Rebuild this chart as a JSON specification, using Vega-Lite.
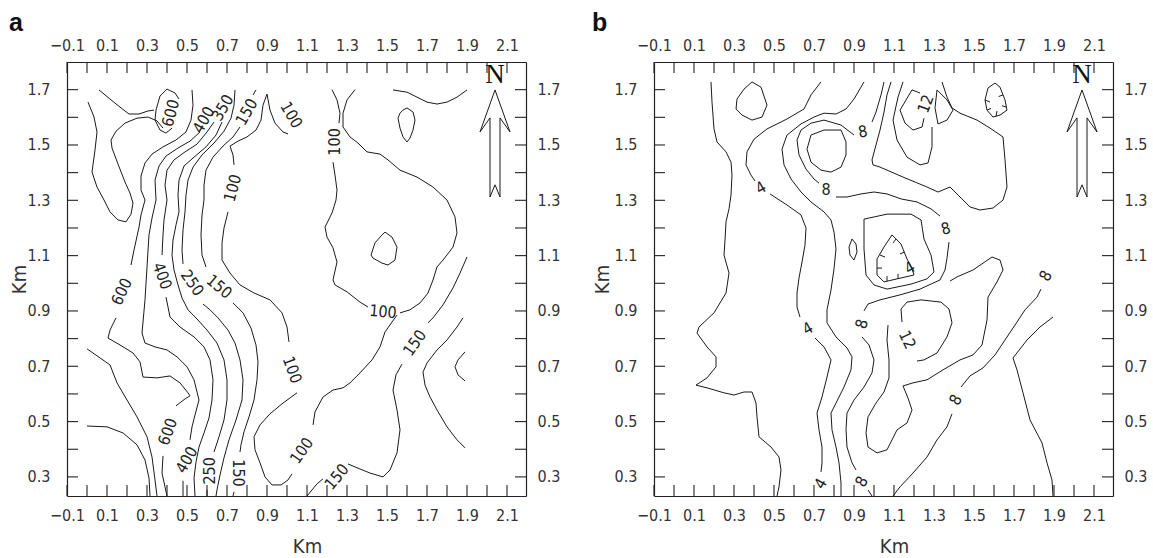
{
"$schema":"https://vega.github.io/schema/vega-lite/v6.json",
"padding":{"left":9,"top":11,"right":0,"bottom":2},
"spacing":128,
"bounds":"flush",
"config":{"view":{"stroke":null},"font":"Liberation Sans Narrow, DejaVu Sans Condensed, Liberation Sans",
"axis":{"grid":false,"ticks":false,"tickSize":0,"domainColor":"#222","labelColor":"#333","labelFontSize":16,"labelFont":"Liberation Sans Narrow, DejaVu Sans Condensed, Liberation Sans","labelFlush":false,"labelOverlap":false,"titleFont":"Liberation Sans Narrow, DejaVu Sans Condensed, Liberation Sans","titleFontSize":20,"titleFontWeight":"normal","titleColor":"#333","domainWidth":1.2}},
"datasets":{
"xt":[{"v":-0.1},{"v":0},{"v":0.1},{"v":0.2},{"v":0.3},{"v":0.4},{"v":0.5},{"v":0.6},{"v":0.7},{"v":0.8},{"v":0.9},{"v":1},{"v":1.1},{"v":1.2},{"v":1.3},{"v":1.4},{"v":1.5},{"v":1.6},{"v":1.7},{"v":1.8},{"v":1.9},{"v":2},{"v":2.1}],
"yt":[{"v":0.3},{"v":0.4},{"v":0.5},{"v":0.6},{"v":0.7},{"v":0.8},{"v":0.9},{"v":1},{"v":1.1},{"v":1.2},{"v":1.3},{"v":1.4},{"v":1.5},{"v":1.6},{"v":1.7}],
"a":[
{"s":"A1","x":0.005,"y":1.655},{"s":"A1","x":0.035,"y":1.601},{"s":"A1","x":0.05,"y":1.547},{"s":"A1","x":0.04,"y":1.482},{"s":"A1","x":0.025,"y":1.402},{"s":"A1","x":0.05,"y":1.348},{"s":"A1","x":0.085,"y":1.301},{"s":"A1","x":0.115,"y":1.258},{"s":"A1","x":0.155,"y":1.229},{"s":"A1","x":0.195,"y":1.222},{"s":"A1","x":0.22,"y":1.25},{"s":"A1","x":0.23,"y":1.29},{"s":"A1","x":0.215,"y":1.326},{"s":"A1","x":0.19,"y":1.366},{"s":"A1","x":0.155,"y":1.431},{"s":"A1","x":0.125,"y":1.489},{"s":"A1","x":0.12,"y":1.518},{"s":"A1","x":0.145,"y":1.55},{"s":"A1","x":0.19,"y":1.579},{"s":"A1","x":0.25,"y":1.597},{"s":"A1","x":0.305,"y":1.601},{"s":"A1","x":0.35,"y":1.587},{"s":"A1","x":0.38,"y":1.561},
{"s":"A2","x":0.06,"y":1.699},{"s":"A2","x":0.115,"y":1.666},{"s":"A2","x":0.165,"y":1.637},{"s":"A2","x":0.21,"y":1.612},{"s":"A2","x":0.26,"y":1.612},{"s":"A2","x":0.305,"y":1.623},{"s":"A2","x":0.335,"y":1.626},
{"s":"A3","x":0.46,"y":1.666},{"s":"A3","x":0.44,"y":1.688},{"s":"A3","x":0.4,"y":1.702},{"s":"A3","x":0.365,"y":1.677},{"s":"A3","x":0.345,"y":1.626},{"s":"A3","x":0.34,"y":1.59},{"s":"A3","x":0.365,"y":1.554},{"s":"A3","x":0.395,"y":1.543},{"s":"A3","x":0.425,"y":1.561},
{"s":"B1a","x":0.525,"y":1.699},{"s":"B1a","x":0.53,"y":1.644},{"s":"B1a","x":0.52,"y":1.59},{"s":"B1a","x":0.495,"y":1.547},{"s":"B1a","x":0.445,"y":1.518},{"s":"B1a","x":0.38,"y":1.493},{"s":"B1a","x":0.325,"y":1.467},{"s":"B1a","x":0.29,"y":1.435},{"s":"B1a","x":0.27,"y":1.388},{"s":"B1a","x":0.27,"y":1.337},{"s":"B1a","x":0.29,"y":1.301},{"s":"B1a","x":0.27,"y":1.247},{"s":"B1a","x":0.26,"y":1.203},{"s":"B1a","x":0.235,"y":1.12},{"s":"B1a","x":0.22,"y":1.066},
{"s":"B1b","x":0.145,"y":0.875},{"s":"B1b","x":0.115,"y":0.831},{"s":"B1b","x":0.105,"y":0.802},{"s":"B1b","x":0.165,"y":0.777},{"s":"B1b","x":0.23,"y":0.748},{"s":"B1b","x":0.265,"y":0.716},{"s":"B1b","x":0.28,"y":0.661},{"s":"B1b","x":0.35,"y":0.658},{"s":"B1b","x":0.415,"y":0.665},{"s":"B1b","x":0.465,"y":0.64},{"s":"B1b","x":0.505,"y":0.604},{"s":"B1b","x":0.515,"y":0.593},{"s":"B1b","x":0.49,"y":0.582},{"s":"B1b","x":0.445,"y":0.557},
{"s":"B1c","x":0.38,"y":0.376},{"s":"B1c","x":0.375,"y":0.314},{"s":"B1c","x":0.39,"y":0.264},{"s":"B1c","x":0.4,"y":0.231},
{"s":"B2a","x":0.565,"y":1.547},{"s":"B2a","x":0.515,"y":1.514},{"s":"B2a","x":0.455,"y":1.489},{"s":"B2a","x":0.395,"y":1.46},{"s":"B2a","x":0.36,"y":1.424},{"s":"B2a","x":0.34,"y":1.373},{"s":"B2a","x":0.345,"y":1.301},{"s":"B2a","x":0.325,"y":1.236},{"s":"B2a","x":0.31,"y":1.175},{"s":"B2a","x":0.3,"y":1.059},{"s":"B2a","x":0.29,"y":0.94},{"s":"B2a","x":0.275,"y":0.82},{"s":"B2a","x":0.29,"y":0.784},{"s":"B2a","x":0.34,"y":0.77},{"s":"B2a","x":0.4,"y":0.759},{"s":"B2a","x":0.45,"y":0.734},{"s":"B2a","x":0.5,"y":0.698},{"s":"B2a","x":0.535,"y":0.651},{"s":"B2a","x":0.56,"y":0.578},{"s":"B2a","x":0.54,"y":0.524},{"s":"B2a","x":0.525,"y":0.481},{"s":"B2a","x":0.515,"y":0.434},
{"s":"B2b","x":0.48,"y":0.286},{"s":"B2b","x":0.48,"y":0.231},
{"s":"B3a","x":0.635,"y":1.583},{"s":"B3a","x":0.6,"y":1.547},{"s":"B3a","x":0.55,"y":1.503},{"s":"B3a","x":0.49,"y":1.475},{"s":"B3a","x":0.435,"y":1.446},{"s":"B3a","x":0.4,"y":1.409},{"s":"B3a","x":0.39,"y":1.355},{"s":"B3a","x":0.4,"y":1.301},{"s":"B3a","x":0.385,"y":1.229},{"s":"B3a","x":0.38,"y":1.175},{"s":"B3a","x":0.375,"y":1.102},
{"s":"B3b","x":0.395,"y":0.95},{"s":"B3b","x":0.415,"y":0.878},{"s":"B3b","x":0.465,"y":0.842},{"s":"B3b","x":0.535,"y":0.806},{"s":"B3b","x":0.585,"y":0.77},{"s":"B3b","x":0.615,"y":0.723},{"s":"B3b","x":0.63,"y":0.651},{"s":"B3b","x":0.625,"y":0.578},{"s":"B3b","x":0.61,"y":0.513},{"s":"B3b","x":0.585,"y":0.459},{"s":"B3b","x":0.56,"y":0.408},{"s":"B3b","x":0.545,"y":0.354},{"s":"B3b","x":0.535,"y":0.296},{"s":"B3b","x":0.54,"y":0.231},
{"s":"B4","x":0.675,"y":1.583},{"s":"B4","x":0.645,"y":1.536},{"s":"B4","x":0.595,"y":1.493},{"s":"B4","x":0.535,"y":1.456},{"s":"B4","x":0.485,"y":1.424},{"s":"B4","x":0.46,"y":1.373},{"s":"B4","x":0.455,"y":1.319},{"s":"B4","x":0.46,"y":1.258},{"s":"B4","x":0.445,"y":1.211},{"s":"B4","x":0.43,"y":1.156},{"s":"B4","x":0.425,"y":1.102},{"s":"B4","x":0.435,"y":1.048},{"s":"B4","x":0.455,"y":0.994},{"s":"B4","x":0.475,"y":0.947},{"s":"B4","x":0.505,"y":0.904},{"s":"B4","x":0.555,"y":0.867},{"s":"B4","x":0.6,"y":0.831},{"s":"B4","x":0.65,"y":0.784},{"s":"B4","x":0.685,"y":0.723},{"s":"B4","x":0.7,"y":0.651},{"s":"B4","x":0.7,"y":0.578},{"s":"B4","x":0.685,"y":0.506},{"s":"B4","x":0.66,"y":0.445},{"s":"B4","x":0.635,"y":0.39},
{"s":"B4b","x":0.6,"y":0.253},{"s":"B4b","x":0.6,"y":0.231},
{"s":"B5a","x":0.74,"y":1.699},{"s":"B5a","x":0.735,"y":1.644},{"s":"B5a","x":0.72,"y":1.597},{"s":"B5a","x":0.685,"y":1.55},{"s":"B5a","x":0.635,"y":1.507},{"s":"B5a","x":0.575,"y":1.464},{"s":"B5a","x":0.53,"y":1.42},{"s":"B5a","x":0.505,"y":1.373},{"s":"B5a","x":0.495,"y":1.319},{"s":"B5a","x":0.49,"y":1.258},{"s":"B5a","x":0.48,"y":1.193},{"s":"B5a","x":0.475,"y":1.12},{"s":"B5a","x":0.48,"y":1.07},
{"s":"B5b","x":0.58,"y":0.925},{"s":"B5b","x":0.615,"y":0.904},{"s":"B5b","x":0.655,"y":0.875},{"s":"B5b","x":0.705,"y":0.831},{"s":"B5b","x":0.74,"y":0.784},{"s":"B5b","x":0.765,"y":0.723},{"s":"B5b","x":0.78,"y":0.651},{"s":"B5b","x":0.775,"y":0.578},{"s":"B5b","x":0.745,"y":0.506},{"s":"B5b","x":0.71,"y":0.434},{"s":"B5b","x":0.685,"y":0.369},{"s":"B5b","x":0.665,"y":0.307},{"s":"B5b","x":0.65,"y":0.253},{"s":"B5b","x":0.645,"y":0.231},
{"s":"B6t","x":0.83,"y":1.681},{"s":"B6t","x":0.845,"y":1.699},
{"s":"B6a","x":0.765,"y":1.565},{"s":"B6a","x":0.73,"y":1.529},{"s":"B6a","x":0.68,"y":1.496},{"s":"B6a","x":0.63,"y":1.456},{"s":"B6a","x":0.595,"y":1.409},{"s":"B6a","x":0.585,"y":1.355},{"s":"B6a","x":0.585,"y":1.301},{"s":"B6a","x":0.575,"y":1.247},{"s":"B6a","x":0.57,"y":1.175},{"s":"B6a","x":0.575,"y":1.102},{"s":"B6a","x":0.595,"y":1.059},
{"s":"B6b","x":0.73,"y":0.929},{"s":"B6b","x":0.78,"y":0.893},{"s":"B6b","x":0.82,"y":0.838},{"s":"B6b","x":0.845,"y":0.777},{"s":"B6b","x":0.855,"y":0.716},{"s":"B6b","x":0.85,"y":0.651},{"s":"B6b","x":0.835,"y":0.578},{"s":"B6b","x":0.81,"y":0.517},{"s":"B6b","x":0.785,"y":0.463},{"s":"B6b","x":0.77,"y":0.416},{"s":"B6b","x":0.765,"y":0.39},
{"s":"B6c","x":0.735,"y":0.246},{"s":"B6c","x":0.73,"y":0.231},
{"s":"H1","x":1.005,"y":1.54},{"s":"H1","x":0.98,"y":1.547},{"s":"H1","x":0.94,"y":1.579},{"s":"H1","x":0.915,"y":1.626},{"s":"H1","x":0.9,"y":1.684},{"s":"H1","x":0.88,"y":1.644},{"s":"H1","x":0.87,"y":1.59},{"s":"H1","x":0.845,"y":1.554},{"s":"H1","x":0.8,"y":1.529},{"s":"H1","x":0.755,"y":1.514},{"s":"H1","x":0.715,"y":1.496},{"s":"H1","x":0.73,"y":1.464},{"s":"H1","x":0.735,"y":1.428},
{"s":"H2","x":0.705,"y":1.258},{"s":"H2","x":0.685,"y":1.2},{"s":"H2","x":0.675,"y":1.146},{"s":"H2","x":0.675,"y":1.084},{"s":"H2","x":0.715,"y":1.037},{"s":"H2","x":0.765,"y":0.994},{"s":"H2","x":0.835,"y":0.965},{"s":"H2","x":0.915,"y":0.94},{"s":"H2","x":0.975,"y":0.893},{"s":"H2","x":1.0,"y":0.842},{"s":"H2","x":1.01,"y":0.788},
{"s":"H3","x":1.05,"y":0.604},{"s":"H3","x":0.98,"y":0.567},{"s":"H3","x":0.915,"y":0.528},{"s":"H3","x":0.865,"y":0.488},{"s":"H3","x":0.835,"y":0.445},{"s":"H3","x":0.84,"y":0.398},{"s":"H3","x":0.865,"y":0.351},{"s":"H3","x":0.89,"y":0.3},{"s":"H3","x":0.925,"y":0.271},{"s":"H3","x":0.97,"y":0.271},{"s":"H3","x":1.005,"y":0.289},{"s":"H3","x":1.025,"y":0.311},
{"s":"H4","x":1.13,"y":0.488},{"s":"H4","x":1.14,"y":0.535},{"s":"H4","x":1.18,"y":0.589},{"s":"H4","x":1.23,"y":0.614},{"s":"H4","x":1.28,"y":0.622},{"s":"H4","x":1.315,"y":0.64},{"s":"H4","x":1.365,"y":0.676},{"s":"H4","x":1.425,"y":0.723},{"s":"H4","x":1.465,"y":0.77},{"s":"H4","x":1.49,"y":0.824},{"s":"H4","x":1.525,"y":0.86},{"s":"H4","x":1.55,"y":0.885},
{"s":"H5","x":1.225,"y":1.7},{"s":"H5","x":1.25,"y":1.663},{"s":"H5","x":1.265,"y":1.615},{"s":"H5","x":1.26,"y":1.579},
{"s":"H6","x":1.23,"y":1.438},{"s":"H6","x":1.24,"y":1.391},{"s":"H6","x":1.25,"y":1.337},{"s":"H6","x":1.245,"y":1.301},{"s":"H6","x":1.225,"y":1.254},{"s":"H6","x":1.19,"y":1.203},{"s":"H6","x":1.2,"y":1.167},{"s":"H6","x":1.23,"y":1.128},{"s":"H6","x":1.25,"y":1.077},{"s":"H6","x":1.23,"y":1.012},{"s":"H6","x":1.24,"y":0.994},{"s":"H6","x":1.3,"y":0.969},{"s":"H6","x":1.365,"y":0.932},{"s":"H6","x":1.405,"y":0.914},
{"s":"R1","x":1.34,"y":1.7},{"s":"R1","x":1.3,"y":1.663},{"s":"R1","x":1.28,"y":1.615},{"s":"R1","x":1.28,"y":1.565},{"s":"R1","x":1.315,"y":1.529},{"s":"R1","x":1.355,"y":1.507},{"s":"R1","x":1.4,"y":1.475},{"s":"R1","x":1.465,"y":1.467},{"s":"R1","x":1.505,"y":1.446},{"s":"R1","x":1.565,"y":1.409},{"s":"R1","x":1.65,"y":1.384},{"s":"R1","x":1.73,"y":1.348},{"s":"R1","x":1.8,"y":1.301},{"s":"R1","x":1.84,"y":1.24},{"s":"R1","x":1.85,"y":1.182},{"s":"R1","x":1.83,"y":1.131},{"s":"R1","x":1.78,"y":1.084},{"s":"R1","x":1.75,"y":1.059},{"s":"R1","x":1.73,"y":1.012},{"s":"R1","x":1.705,"y":0.965},{"s":"R1","x":1.665,"y":0.929},{"s":"R1","x":1.615,"y":0.904},{"s":"R1","x":1.565,"y":0.893},
{"s":"R2a","x":1.9,"y":1.095},{"s":"R2a","x":1.865,"y":1.037},{"s":"R2a","x":1.83,"y":0.983},{"s":"R2a","x":1.78,"y":0.922},{"s":"R2a","x":1.73,"y":0.875},{"s":"R2a","x":1.705,"y":0.857},
{"s":"R2b","x":1.575,"y":0.708},{"s":"R2b","x":1.545,"y":0.669},{"s":"R2b","x":1.53,"y":0.614},{"s":"R2b","x":1.55,"y":0.542},{"s":"R2b","x":1.565,"y":0.47},{"s":"R2b","x":1.55,"y":0.387},{"s":"R2b","x":1.515,"y":0.325},{"s":"R2b","x":1.48,"y":0.3},{"s":"R2b","x":1.415,"y":0.314},{"s":"R2b","x":1.34,"y":0.336},{"s":"R2b","x":1.305,"y":0.347},
{"s":"R2c","x":1.18,"y":0.293},{"s":"R2c","x":1.15,"y":0.275},{"s":"R2c","x":1.1,"y":0.231},
{"s":"R3","x":1.88,"y":0.875},{"s":"R3","x":1.85,"y":0.842},{"s":"R3","x":1.8,"y":0.795},{"s":"R3","x":1.75,"y":0.759},{"s":"R3","x":1.7,"y":0.712},{"s":"R3","x":1.68,"y":0.679},{"s":"R3","x":1.69,"y":0.632},{"s":"R3","x":1.715,"y":0.589},{"s":"R3","x":1.75,"y":0.542},{"s":"R3","x":1.8,"y":0.481},{"s":"R3","x":1.85,"y":0.434},{"s":"R3","x":1.89,"y":0.405},
{"s":"R4","x":1.89,"y":0.752},{"s":"R4","x":1.855,"y":0.723},{"s":"R4","x":1.84,"y":0.698},{"s":"R4","x":1.855,"y":0.669},{"s":"R4","x":1.89,"y":0.647},
{"s":"T1","x":1.53,"y":1.699},{"s":"T1","x":1.6,"y":1.691},{"s":"T1","x":1.65,"y":1.673},{"s":"T1","x":1.7,"y":1.655},{"s":"T1","x":1.75,"y":1.648},{"s":"T1","x":1.8,"y":1.655},{"s":"T1","x":1.85,"y":1.673},{"s":"T1","x":1.9,"y":1.699},
{"s":"S1","x":1.565,"y":1.615},{"s":"S1","x":1.58,"y":1.626},{"s":"S1","x":1.6,"y":1.634},{"s":"S1","x":1.63,"y":1.619},{"s":"S1","x":1.64,"y":1.59},{"s":"S1","x":1.63,"y":1.554},{"s":"S1","x":1.615,"y":1.525},{"s":"S1","x":1.6,"y":1.511},{"s":"S1","x":1.58,"y":1.529},{"s":"S1","x":1.565,"y":1.561},{"s":"S1","x":1.555,"y":1.597},{"s":"S1","x":1.565,"y":1.615},
{"s":"S2","x":1.49,"y":1.185},{"s":"S2","x":1.525,"y":1.167},{"s":"S2","x":1.55,"y":1.131},{"s":"S2","x":1.54,"y":1.084},{"s":"S2","x":1.505,"y":1.066},{"s":"S2","x":1.475,"y":1.073},{"s":"S2","x":1.43,"y":1.091},{"s":"S2","x":1.42,"y":1.102},{"s":"S2","x":1.44,"y":1.146},{"s":"S2","x":1.475,"y":1.175},{"s":"S2","x":1.49,"y":1.185},
{"s":"L0","x":0.0,"y":0.763},{"s":"L0","x":0.115,"y":0.705},{"s":"L0","x":0.15,"y":0.64},{"s":"L0","x":0.2,"y":0.578},{"s":"L0","x":0.25,"y":0.517},{"s":"L0","x":0.3,"y":0.445},{"s":"L0","x":0.325,"y":0.372},{"s":"L0","x":0.34,"y":0.289},{"s":"L0","x":0.35,"y":0.231},
{"s":"L00","x":0.0,"y":0.484},{"s":"L00","x":0.1,"y":0.481},{"s":"L00","x":0.18,"y":0.459},{"s":"L00","x":0.25,"y":0.416},{"s":"L00","x":0.29,"y":0.361},{"s":"L00","x":0.31,"y":0.296},{"s":"L00","x":0.315,"y":0.231}
],
"la":[
{"t":"600","x":0.42,"y":1.615,"a":-75},{"t":"400","x":0.585,"y":1.59,"a":-60},{"t":"350","x":0.68,"y":1.634,"a":-60},{"t":"150","x":0.8,"y":1.619,"a":-60},{"t":"100","x":1.02,"y":1.608,"a":60},{"t":"100","x":1.24,"y":1.511,"a":-90},{"t":"100","x":0.73,"y":1.344,"a":-75},{"t":"600","x":0.175,"y":0.969,"a":-65},{"t":"400","x":0.375,"y":1.026,"a":70},{"t":"250","x":0.525,"y":1.001,"a":55},{"t":"150","x":0.66,"y":0.987,"a":40},{"t":"100","x":1.025,"y":0.687,"a":70},{"t":"100","x":1.48,"y":0.896,"a":5},{"t":"150","x":1.64,"y":0.784,"a":-55},{"t":"600","x":0.405,"y":0.463,"a":-70},{"t":"400","x":0.5,"y":0.361,"a":-60},{"t":"250","x":0.615,"y":0.322,"a":-90},{"t":"150","x":0.755,"y":0.314,"a":90},{"t":"100","x":1.075,"y":0.394,"a":-55},{"t":"150","x":1.25,"y":0.3,"a":-50}
],
"b":[
{"s":"P1","x":0.185,"y":1.728},{"s":"P1","x":0.19,"y":1.655},{"s":"P1","x":0.2,"y":1.558},{"s":"P1","x":0.215,"y":1.511},{"s":"P1","x":0.26,"y":1.475},{"s":"P1","x":0.285,"y":1.438},{"s":"P1","x":0.29,"y":1.391},{"s":"P1","x":0.285,"y":1.319},{"s":"P1","x":0.275,"y":1.269},{"s":"P1","x":0.26,"y":1.222},{"s":"P1","x":0.255,"y":1.156},{"s":"P1","x":0.25,"y":1.102},{"s":"P1","x":0.275,"y":1.037},{"s":"P1","x":0.26,"y":0.965},{"s":"P1","x":0.2,"y":0.893},{"s":"P1","x":0.125,"y":0.842},{"s":"P1","x":0.115,"y":0.82},{"s":"P1","x":0.165,"y":0.77},{"s":"P1","x":0.21,"y":0.734},{"s":"P1","x":0.21,"y":0.698},{"s":"P1","x":0.165,"y":0.658},{"s":"P1","x":0.11,"y":0.632},{"s":"P1","x":0.165,"y":0.622},{"s":"P1","x":0.25,"y":0.604},{"s":"P1","x":0.3,"y":0.596},{"s":"P1","x":0.35,"y":0.607},{"s":"P1","x":0.39,"y":0.607},{"s":"P1","x":0.41,"y":0.567},{"s":"P1","x":0.415,"y":0.517},{"s":"P1","x":0.425,"y":0.445},{"s":"P1","x":0.485,"y":0.408},{"s":"P1","x":0.525,"y":0.372},{"s":"P1","x":0.535,"y":0.325},{"s":"P1","x":0.525,"y":0.264},{"s":"P1","x":0.515,"y":0.231},
{"s":"P2","x":0.39,"y":1.728},{"s":"P2","x":0.435,"y":1.709},{"s":"P2","x":0.465,"y":1.644},{"s":"P2","x":0.44,"y":1.601},{"s":"P2","x":0.39,"y":1.59},{"s":"P2","x":0.34,"y":1.608},{"s":"P2","x":0.31,"y":1.63},{"s":"P2","x":0.315,"y":1.666},{"s":"P2","x":0.35,"y":1.702},{"s":"P2","x":0.39,"y":1.728},
{"s":"P3a","x":0.735,"y":1.728},{"s":"P3a","x":0.685,"y":1.681},{"s":"P3a","x":0.65,"y":1.63},{"s":"P3a","x":0.565,"y":1.594},{"s":"P3a","x":0.465,"y":1.558},{"s":"P3a","x":0.4,"y":1.521},{"s":"P3a","x":0.365,"y":1.475},{"s":"P3a","x":0.36,"y":1.428},{"s":"P3a","x":0.385,"y":1.391},{"s":"P3a","x":0.405,"y":1.37},
{"s":"P3b","x":0.48,"y":1.323},{"s":"P3b","x":0.565,"y":1.283},{"s":"P3b","x":0.635,"y":1.247},{"s":"P3b","x":0.66,"y":1.2},{"s":"P3b","x":0.655,"y":1.138},{"s":"P3b","x":0.64,"y":1.077},{"s":"P3b","x":0.625,"y":1.019},{"s":"P3b","x":0.615,"y":0.965},{"s":"P3b","x":0.615,"y":0.914},{"s":"P3b","x":0.63,"y":0.878},
{"s":"P3c","x":0.705,"y":0.802},{"s":"P3c","x":0.75,"y":0.77},{"s":"P3c","x":0.785,"y":0.723},{"s":"P3c","x":0.765,"y":0.661},{"s":"P3c","x":0.74,"y":0.589},{"s":"P3c","x":0.715,"y":0.531},{"s":"P3c","x":0.725,"y":0.47},{"s":"P3c","x":0.74,"y":0.408},{"s":"P3c","x":0.74,"y":0.351},{"s":"P3c","x":0.735,"y":0.318},
{"s":"P4","x":0.95,"y":1.728},{"s":"P4","x":0.9,"y":1.666},{"s":"P4","x":0.86,"y":1.63},{"s":"P4","x":0.81,"y":1.612},{"s":"P4","x":0.75,"y":1.615},{"s":"P4","x":0.7,"y":1.601},{"s":"P4","x":0.635,"y":1.576},{"s":"P4","x":0.565,"y":1.536},{"s":"P4","x":0.54,"y":1.485},{"s":"P4","x":0.55,"y":1.428},{"s":"P4","x":0.585,"y":1.377},{"s":"P4","x":0.635,"y":1.33},{"s":"P4","x":0.685,"y":1.294},{"s":"P4","x":0.75,"y":1.258},{"s":"P4","x":0.785,"y":1.229},{"s":"P4","x":0.8,"y":1.185},{"s":"P4","x":0.81,"y":1.124},{"s":"P4","x":0.8,"y":1.052},{"s":"P4","x":0.785,"y":0.976},{"s":"P4","x":0.765,"y":0.904},{"s":"P4","x":0.765,"y":0.857},{"s":"P4","x":0.81,"y":0.806},{"s":"P4","x":0.865,"y":0.766},{"s":"P4","x":0.89,"y":0.734},{"s":"P4","x":0.885,"y":0.687},{"s":"P4","x":0.85,"y":0.625},{"s":"P4","x":0.81,"y":0.567},{"s":"P4","x":0.785,"y":0.531},{"s":"P4","x":0.79,"y":0.47},{"s":"P4","x":0.81,"y":0.408},{"s":"P4","x":0.825,"y":0.351},{"s":"P4","x":0.835,"y":0.278},{"s":"P4","x":0.835,"y":0.231},
{"s":"Q1a","x":1.05,"y":1.728},{"s":"Q1a","x":1.035,"y":1.681},{"s":"Q1a","x":1.01,"y":1.619},{"s":"Q1a","x":0.99,"y":1.583},
{"s":"Q1b","x":0.9,"y":1.536},{"s":"Q1b","x":0.835,"y":1.572},{"s":"Q1b","x":0.75,"y":1.59},{"s":"Q1b","x":0.685,"y":1.579},{"s":"Q1b","x":0.635,"y":1.554},{"s":"Q1b","x":0.615,"y":1.518},{"s":"Q1b","x":0.625,"y":1.464},{"s":"Q1b","x":0.66,"y":1.413},{"s":"Q1b","x":0.7,"y":1.377},{"s":"Q1b","x":0.725,"y":1.362},
{"s":"Q1c","x":0.81,"y":1.312},{"s":"Q1c","x":0.865,"y":1.312},{"s":"Q1c","x":0.935,"y":1.323},{"s":"Q1c","x":1.0,"y":1.33},{"s":"Q1c","x":1.065,"y":1.323},{"s":"Q1c","x":1.135,"y":1.305},{"s":"Q1c","x":1.215,"y":1.294},{"s":"Q1c","x":1.285,"y":1.269},{"s":"Q1c","x":1.33,"y":1.243},
{"s":"Q1d","x":1.375,"y":1.149},{"s":"Q1d","x":1.365,"y":1.091},{"s":"Q1d","x":1.355,"y":1.048},{"s":"Q1d","x":1.33,"y":1.012},{"s":"Q1d","x":1.23,"y":0.979},{"s":"Q1d","x":1.13,"y":0.958},{"s":"Q1d","x":1.03,"y":0.94},{"s":"Q1d","x":0.97,"y":0.925},{"s":"Q1d","x":0.95,"y":0.9},
{"s":"Q1e","x":0.94,"y":0.806},{"s":"Q1e","x":0.975,"y":0.777},{"s":"Q1e","x":1.0,"y":0.723},{"s":"Q1e","x":0.99,"y":0.676},{"s":"Q1e","x":0.95,"y":0.625},{"s":"Q1e","x":0.9,"y":0.578},{"s":"Q1e","x":0.865,"y":0.531},{"s":"Q1e","x":0.86,"y":0.47},{"s":"Q1e","x":0.865,"y":0.408},{"s":"Q1e","x":0.89,"y":0.351},{"s":"Q1e","x":0.91,"y":0.325},
{"s":"Q1f","x":0.97,"y":0.253},{"s":"Q1f","x":0.99,"y":0.231},
{"s":"IR","x":0.75,"y":1.554},{"s":"IR","x":0.835,"y":1.554},{"s":"IR","x":0.86,"y":1.511},{"s":"IR","x":0.86,"y":1.464},{"s":"IR","x":0.835,"y":1.42},{"s":"IR","x":0.785,"y":1.402},{"s":"IR","x":0.735,"y":1.409},{"s":"IR","x":0.685,"y":1.438},{"s":"IR","x":0.665,"y":1.485},{"s":"IR","x":0.685,"y":1.536},{"s":"IR","x":0.75,"y":1.554},
{"s":"H4o","x":0.95,"y":1.232},{"s":"H4o","x":1.065,"y":1.25},{"s":"H4o","x":1.185,"y":1.25},{"s":"H4o","x":1.235,"y":1.229},{"s":"H4o","x":1.25,"y":1.16},{"s":"H4o","x":1.285,"y":1.102},{"s":"H4o","x":1.3,"y":1.041},{"s":"H4o","x":1.265,"y":1.016},{"s":"H4o","x":1.185,"y":0.997},{"s":"H4o","x":1.065,"y":0.979},{"s":"H4o","x":1.0,"y":0.994},{"s":"H4o","x":0.96,"y":1.03},{"s":"H4o","x":0.95,"y":1.124},{"s":"H4o","x":0.95,"y":1.196},{"s":"H4o","x":0.95,"y":1.232},
{"s":"H4i","x":1.09,"y":1.175},{"s":"H4i","x":1.135,"y":1.142},{"s":"H4i","x":1.165,"y":1.088},{"s":"H4i","x":1.19,"y":1.052},{"s":"H4i","x":1.2,"y":1.03},{"s":"H4i","x":1.115,"y":1.016},{"s":"H4i","x":1.05,"y":1.005},{"s":"H4i","x":1.015,"y":1.03},{"s":"H4i","x":1.015,"y":1.088},{"s":"H4i","x":1.05,"y":1.131},{"s":"H4i","x":1.09,"y":1.175},
{"s":"t1","x":1.03,"y":1.102},{"s":"t1","x":1.055,"y":1.095},
{"s":"t2","x":1.015,"y":1.055},{"s":"t2","x":1.04,"y":1.055},
{"s":"t3","x":1.065,"y":1.008},{"s":"t3","x":1.065,"y":1.026},
{"s":"t4","x":1.12,"y":1.016},{"s":"t4","x":1.12,"y":1.034},
{"s":"t5","x":1.152,"y":1.113},{"s":"t5","x":1.13,"y":1.106},
{"s":"t6","x":1.11,"y":1.16},{"s":"t6","x":1.095,"y":1.146},
{"s":"OV","x":0.89,"y":1.16},{"s":"OV","x":0.91,"y":1.142},{"s":"OV","x":0.915,"y":1.113},{"s":"OV","x":0.9,"y":1.084},{"s":"OV","x":0.88,"y":1.102},{"s":"OV","x":0.875,"y":1.131},{"s":"OV","x":0.89,"y":1.16},
{"s":"Q2","x":1.085,"y":1.728},{"s":"Q2","x":1.065,"y":1.681},{"s":"Q2","x":1.05,"y":1.619},{"s":"Q2","x":1.03,"y":1.554},{"s":"Q2","x":1.01,"y":1.5},{"s":"Q2","x":0.99,"y":1.446},{"s":"Q2","x":0.995,"y":1.428},{"s":"Q2","x":1.03,"y":1.42},{"s":"Q2","x":1.145,"y":1.384},{"s":"Q2","x":1.265,"y":1.348},{"s":"Q2","x":1.32,"y":1.33},{"s":"Q2","x":1.38,"y":1.348},{"s":"Q2","x":1.43,"y":1.312},{"s":"Q2","x":1.48,"y":1.276},{"s":"Q2","x":1.53,"y":1.265},{"s":"Q2","x":1.595,"y":1.272},{"s":"Q2","x":1.645,"y":1.301},{"s":"Q2","x":1.665,"y":1.348},{"s":"Q2","x":1.655,"y":1.446},{"s":"Q2","x":1.645,"y":1.529},{"s":"Q2","x":1.58,"y":1.561},{"s":"Q2","x":1.515,"y":1.59},{"s":"Q2","x":1.43,"y":1.615},{"s":"Q2","x":1.39,"y":1.634},{"s":"Q2","x":1.365,"y":1.673},{"s":"Q2","x":1.34,"y":1.728},
{"s":"Q3","x":1.145,"y":1.728},{"s":"Q3","x":1.12,"y":1.673},{"s":"Q3","x":1.095,"y":1.59},{"s":"Q3","x":1.115,"y":1.518},{"s":"Q3","x":1.165,"y":1.456},{"s":"Q3","x":1.23,"y":1.428},{"s":"Q3","x":1.27,"y":1.435},{"s":"Q3","x":1.29,"y":1.493},{"s":"Q3","x":1.29,"y":1.565},
{"s":"Q4","x":1.23,"y":1.688},{"s":"Q4","x":1.19,"y":1.699},{"s":"Q4","x":1.13,"y":1.626},{"s":"Q4","x":1.155,"y":1.579},{"s":"Q4","x":1.195,"y":1.554},{"s":"Q4","x":1.24,"y":1.565},{"s":"Q4","x":1.25,"y":1.597},
{"s":"Q5","x":1.315,"y":1.699},{"s":"Q5","x":1.365,"y":1.663},{"s":"Q5","x":1.395,"y":1.626},{"s":"Q5","x":1.365,"y":1.59},{"s":"Q5","x":1.32,"y":1.576},{"s":"Q5","x":1.305,"y":1.634},{"s":"Q5","x":1.315,"y":1.699},
{"s":"Q6","x":1.605,"y":1.724},{"s":"Q6","x":1.63,"y":1.709},{"s":"Q6","x":1.655,"y":1.663},{"s":"Q6","x":1.665,"y":1.626},{"s":"Q6","x":1.63,"y":1.608},{"s":"Q6","x":1.595,"y":1.601},{"s":"Q6","x":1.565,"y":1.626},{"s":"Q6","x":1.555,"y":1.663},{"s":"Q6","x":1.57,"y":1.706},{"s":"Q6","x":1.605,"y":1.724},
{"s":"u1","x":1.555,"y":1.663},{"s":"u1","x":1.58,"y":1.655},
{"s":"u2","x":1.565,"y":1.626},{"s":"u2","x":1.585,"y":1.632},
{"s":"u3","x":1.61,"y":1.604},{"s":"u3","x":1.615,"y":1.623},
{"s":"u4","x":1.662,"y":1.637},{"s":"u4","x":1.64,"y":1.642},
{"s":"u5","x":1.645,"y":1.681},{"s":"u5","x":1.623,"y":1.675},
{"s":"R12","x":1.14,"y":0.86},{"s":"R12","x":1.135,"y":0.907},{"s":"R12","x":1.165,"y":0.932},{"s":"R12","x":1.235,"y":0.94},{"s":"R12","x":1.335,"y":0.932},{"s":"R12","x":1.375,"y":0.907},{"s":"R12","x":1.39,"y":0.857},{"s":"R12","x":1.365,"y":0.806},{"s":"R12","x":1.315,"y":0.748},{"s":"R12","x":1.25,"y":0.723},{"s":"R12","x":1.215,"y":0.719},
{"s":"C","x":1.38,"y":1.008},{"s":"C","x":1.415,"y":1.023},{"s":"C","x":1.495,"y":1.048},{"s":"C","x":1.59,"y":1.095},{"s":"C","x":1.63,"y":1.084},{"s":"C","x":1.645,"y":1.048},{"s":"C","x":1.615,"y":1.005},{"s":"C","x":1.57,"y":0.95},{"s":"C","x":1.565,"y":0.867},{"s":"C","x":1.54,"y":0.777},{"s":"C","x":1.495,"y":0.741},{"s":"C","x":1.43,"y":0.723},{"s":"C","x":1.345,"y":0.687},{"s":"C","x":1.265,"y":0.651},{"s":"C","x":1.195,"y":0.64},{"s":"C","x":1.145,"y":0.629},{"s":"C","x":1.17,"y":0.585},{"s":"C","x":1.19,"y":0.542},{"s":"C","x":1.165,"y":0.495},{"s":"C","x":1.115,"y":0.47},{"s":"C","x":1.09,"y":0.434},{"s":"C","x":1.065,"y":0.398},{"s":"C","x":1.015,"y":0.387},{"s":"C","x":0.97,"y":0.408},{"s":"C","x":0.96,"y":0.459},{"s":"C","x":0.97,"y":0.517},{"s":"C","x":1.01,"y":0.567},{"s":"C","x":1.05,"y":0.607},{"s":"C","x":1.075,"y":0.658},{"s":"C","x":1.075,"y":0.723},{"s":"C","x":1.065,"y":0.795},{"s":"C","x":1.07,"y":0.849},
{"s":"E1","x":1.095,"y":0.231},{"s":"E1","x":1.13,"y":0.264},{"s":"E1","x":1.195,"y":0.314},{"s":"E1","x":1.265,"y":0.372},{"s":"E1","x":1.315,"y":0.434},{"s":"E1","x":1.365,"y":0.481},{"s":"E1","x":1.39,"y":0.528},
{"s":"E2","x":1.435,"y":0.625},{"s":"E2","x":1.48,"y":0.665},{"s":"E2","x":1.545,"y":0.694},{"s":"E2","x":1.605,"y":0.741},{"s":"E2","x":1.655,"y":0.795},{"s":"E2","x":1.705,"y":0.849},{"s":"E2","x":1.755,"y":0.904},{"s":"E2","x":1.815,"y":0.95},{"s":"E2","x":1.835,"y":0.979},
{"s":"F","x":1.895,"y":0.878},{"s":"F","x":1.83,"y":0.842},{"s":"F","x":1.765,"y":0.795},{"s":"F","x":1.695,"y":0.73},{"s":"F","x":1.715,"y":0.687},{"s":"F","x":1.745,"y":0.604},{"s":"F","x":1.78,"y":0.506},{"s":"F","x":1.84,"y":0.423},{"s":"F","x":1.865,"y":0.351},{"s":"F","x":1.89,"y":0.289},{"s":"F","x":1.895,"y":0.231}
],
"lb":[
{"t":"4","x":0.435,"y":1.344,"a":-30},{"t":"8","x":0.945,"y":1.547,"a":-10},{"t":"8","x":0.76,"y":1.337,"a":0},{"t":"8","x":1.36,"y":1.196,"a":-15},{"t":"12","x":1.26,"y":1.648,"a":-70},{"t":"4","x":1.18,"y":1.055,"a":-30},{"t":"4","x":0.67,"y":0.835,"a":-30},{"t":"8","x":0.94,"y":0.853,"a":-75},{"t":"12","x":1.165,"y":0.795,"a":65},{"t":"8","x":1.41,"y":0.578,"a":-60},{"t":"8","x":1.86,"y":1.026,"a":-60},{"t":"4","x":0.735,"y":0.275,"a":-60},{"t":"8","x":0.94,"y":0.282,"a":-60}
],
"arrow":[
{"x":2.04,"y":1.699},{"x":1.965,"y":1.547},{"x":2.015,"y":1.598},{"x":2.015,"y":1.312},{"x":2.04,"y":1.356},{"x":2.065,"y":1.312},{"x":2.065,"y":1.598},{"x":2.115,"y":1.547},{"x":2.04,"y":1.699}
],
"north":[{"t":"N","x":2.04,"y":1.724}]
},
"hconcat":[
{"width":459,"height":434,
"title":{"text":"a","anchor":"start","frame":"bounds","font":"Liberation Sans","fontSize":25,"fontWeight":"bold","color":"#111","offset":1},
"layer":[
{"data":{"name":"a"},"mark":{"type":"line","color":"#1a1a1a","strokeWidth":1},
"encoding":{"x":{"field":"x","type":"quantitative","scale":{"domain":[-0.1,2.195],"nice":false,"zero":false},"axis":{"orient":"bottom","values":[-0.1,0,0.1,0.2,0.3,0.4,0.5,0.6,0.7,0.8,0.9,1,1.1,1.2,1.3,1.4,1.5,1.6,1.7,1.8,1.9,2,2.1],"labelExpr":"abs(round(datum.value*10)) % 2 == 1 ? format(datum.value, '.1f') : ''","title":"Km","labelPadding":11,"titleX":240,"titleY":56,"titleAngle":0,"titleAlign":"center","titleBaseline":"alphabetic"}},
"y":{"field":"y","type":"quantitative","scale":{"domain":[0.231,1.8],"nice":false,"zero":false},"axis":{"orient":"left","values":[0.3,0.4,0.5,0.6,0.7,0.8,0.9,1,1.1,1.2,1.3,1.4,1.5,1.6,1.7],"labelExpr":"abs(round(datum.value*10)) % 2 == 1 ? format(datum.value, '.1f') : ''","title":"Km","labelPadding":17,"titleX":-42,"titleY":217,"titleAngle":-90,"titleAlign":"center","titleBaseline":"alphabetic"}},
"detail":{"field":"s"},"order":{"value":null}}},
{"data":{"name":"arrow"},"mark":{"type":"line","color":"#1a1a1a","strokeWidth":1},
"encoding":{"x":{"field":"x","type":"quantitative","scale":{"domain":[-0.1,2.195],"nice":false,"zero":false},"axis":{"orient":"top","values":[-0.1,0,0.1,0.2,0.3,0.4,0.5,0.6,0.7,0.8,0.9,1,1.1,1.2,1.3,1.4,1.5,1.6,1.7,1.8,1.9,2,2.1],"labelExpr":"abs(round(datum.value*10)) % 2 == 1 ? format(datum.value, '.1f') : ''","title":null,"labelPadding":9}},
"y":{"field":"y","type":"quantitative","scale":{"domain":[0.231,1.8],"nice":false,"zero":false},"axis":{"orient":"right","values":[0.3,0.4,0.5,0.6,0.7,0.8,0.9,1,1.1,1.2,1.3,1.4,1.5,1.6,1.7],"labelExpr":"abs(round(datum.value*10)) % 2 == 1 ? format(datum.value, '.1f') : ''","title":null,"labelPadding":11}},
"order":{"value":null}}},
{"data":{"name":"xt"},"mark":{"type":"rule","color":"#222","strokeWidth":1.1},
"encoding":{"x":{"field":"v","type":"quantitative","scale":{"domain":[-0.1,2.195],"nice":false,"zero":false},"axis":null},"y":{"datum":1.8,"type":"quantitative","scale":{"domain":[0.231,1.8],"nice":false,"zero":false},"axis":null},"y2":{"datum":1.7602}}},
{"data":{"name":"xt"},"mark":{"type":"rule","color":"#222","strokeWidth":1.1},
"encoding":{"x":{"field":"v","type":"quantitative","scale":{"domain":[-0.1,2.195],"nice":false,"zero":false},"axis":null},"y":{"datum":0.231,"type":"quantitative","scale":{"domain":[0.231,1.8],"nice":false,"zero":false},"axis":null},"y2":{"datum":0.2708}}},
{"data":{"name":"yt"},"mark":{"type":"rule","color":"#222","strokeWidth":1.1},
"encoding":{"y":{"field":"v","type":"quantitative","scale":{"domain":[0.231,1.8],"nice":false,"zero":false},"axis":null},"x":{"datum":-0.1,"type":"quantitative","scale":{"domain":[-0.1,2.195],"nice":false,"zero":false},"axis":null},"x2":{"datum":-0.045}}},
{"data":{"name":"yt"},"mark":{"type":"rule","color":"#222","strokeWidth":1.1},
"encoding":{"y":{"field":"v","type":"quantitative","scale":{"domain":[0.231,1.8],"nice":false,"zero":false},"axis":null},"x":{"datum":2.195,"type":"quantitative","scale":{"domain":[-0.1,2.195],"nice":false,"zero":false},"axis":null},"x2":{"datum":2.14}}},
{"data":{"name":"la"},"mark":{"type":"text","fontSize":16,"color":"#222","align":"center","baseline":"middle"},
"encoding":{"x":{"field":"x","type":"quantitative","scale":{"domain":[-0.1,2.195],"nice":false,"zero":false},"axis":null},"y":{"field":"y","type":"quantitative","scale":{"domain":[0.231,1.8],"nice":false,"zero":false},"axis":null},"text":{"field":"t"},"angle":{"field":"a","type":"quantitative","scale":null}}},
{"data":{"name":"north"},"mark":{"type":"text","font":"Liberation Serif","fontSize":27,"color":"#111","align":"center","baseline":"alphabetic"},
"encoding":{"x":{"field":"x","type":"quantitative","scale":{"domain":[-0.1,2.195],"nice":false,"zero":false},"axis":null},"y":{"field":"y","type":"quantitative","scale":{"domain":[0.231,1.8],"nice":false,"zero":false},"axis":null},"text":{"field":"t"}}}
],
"resolve":{"axis":{"x":"independent","y":"independent"}}},
{"width":459,"height":434,
"title":{"text":"b","anchor":"start","frame":"bounds","font":"Liberation Sans","fontSize":25,"fontWeight":"bold","color":"#111","offset":1},
"layer":[
{"data":{"name":"b"},"mark":{"type":"line","color":"#1a1a1a","strokeWidth":1},
"encoding":{"x":{"field":"x","type":"quantitative","scale":{"domain":[-0.1,2.195],"nice":false,"zero":false},"axis":{"orient":"bottom","values":[-0.1,0,0.1,0.2,0.3,0.4,0.5,0.6,0.7,0.8,0.9,1,1.1,1.2,1.3,1.4,1.5,1.6,1.7,1.8,1.9,2,2.1],"labelExpr":"abs(round(datum.value*10)) % 2 == 1 ? format(datum.value, '.1f') : ''","title":"Km","labelPadding":11,"titleX":240,"titleY":56,"titleAngle":0,"titleAlign":"center","titleBaseline":"alphabetic"}},
"y":{"field":"y","type":"quantitative","scale":{"domain":[0.231,1.8],"nice":false,"zero":false},"axis":{"orient":"left","values":[0.3,0.4,0.5,0.6,0.7,0.8,0.9,1,1.1,1.2,1.3,1.4,1.5,1.6,1.7],"labelExpr":"abs(round(datum.value*10)) % 2 == 1 ? format(datum.value, '.1f') : ''","title":"Km","labelPadding":17,"titleX":-46,"titleY":217,"titleAngle":-90,"titleAlign":"center","titleBaseline":"alphabetic"}},
"detail":{"field":"s"},"order":{"value":null}}},
{"data":{"name":"arrow"},"mark":{"type":"line","color":"#1a1a1a","strokeWidth":1},
"encoding":{"x":{"field":"x","type":"quantitative","scale":{"domain":[-0.1,2.195],"nice":false,"zero":false},"axis":{"orient":"top","values":[-0.1,0,0.1,0.2,0.3,0.4,0.5,0.6,0.7,0.8,0.9,1,1.1,1.2,1.3,1.4,1.5,1.6,1.7,1.8,1.9,2,2.1],"labelExpr":"abs(round(datum.value*10)) % 2 == 1 ? format(datum.value, '.1f') : ''","title":null,"labelPadding":9}},
"y":{"field":"y","type":"quantitative","scale":{"domain":[0.231,1.8],"nice":false,"zero":false},"axis":{"orient":"right","values":[0.3,0.4,0.5,0.6,0.7,0.8,0.9,1,1.1,1.2,1.3,1.4,1.5,1.6,1.7],"labelExpr":"abs(round(datum.value*10)) % 2 == 1 ? format(datum.value, '.1f') : ''","title":null,"labelPadding":11}},
"order":{"value":null}}},
{"data":{"name":"xt"},"mark":{"type":"rule","color":"#222","strokeWidth":1.1},
"encoding":{"x":{"field":"v","type":"quantitative","scale":{"domain":[-0.1,2.195],"nice":false,"zero":false},"axis":null},"y":{"datum":1.8,"type":"quantitative","scale":{"domain":[0.231,1.8],"nice":false,"zero":false},"axis":null},"y2":{"datum":1.7602}}},
{"data":{"name":"xt"},"mark":{"type":"rule","color":"#222","strokeWidth":1.1},
"encoding":{"x":{"field":"v","type":"quantitative","scale":{"domain":[-0.1,2.195],"nice":false,"zero":false},"axis":null},"y":{"datum":0.231,"type":"quantitative","scale":{"domain":[0.231,1.8],"nice":false,"zero":false},"axis":null},"y2":{"datum":0.2708}}},
{"data":{"name":"yt"},"mark":{"type":"rule","color":"#222","strokeWidth":1.1},
"encoding":{"y":{"field":"v","type":"quantitative","scale":{"domain":[0.231,1.8],"nice":false,"zero":false},"axis":null},"x":{"datum":-0.1,"type":"quantitative","scale":{"domain":[-0.1,2.195],"nice":false,"zero":false},"axis":null},"x2":{"datum":-0.045}}},
{"data":{"name":"yt"},"mark":{"type":"rule","color":"#222","strokeWidth":1.1},
"encoding":{"y":{"field":"v","type":"quantitative","scale":{"domain":[0.231,1.8],"nice":false,"zero":false},"axis":null},"x":{"datum":2.195,"type":"quantitative","scale":{"domain":[-0.1,2.195],"nice":false,"zero":false},"axis":null},"x2":{"datum":2.14}}},
{"data":{"name":"lb"},"mark":{"type":"text","fontSize":16,"color":"#222","align":"center","baseline":"middle"},
"encoding":{"x":{"field":"x","type":"quantitative","scale":{"domain":[-0.1,2.195],"nice":false,"zero":false},"axis":null},"y":{"field":"y","type":"quantitative","scale":{"domain":[0.231,1.8],"nice":false,"zero":false},"axis":null},"text":{"field":"t"},"angle":{"field":"a","type":"quantitative","scale":null}}},
{"data":{"name":"north"},"mark":{"type":"text","font":"Liberation Serif","fontSize":27,"color":"#111","align":"center","baseline":"alphabetic"},
"encoding":{"x":{"field":"x","type":"quantitative","scale":{"domain":[-0.1,2.195],"nice":false,"zero":false},"axis":null},"y":{"field":"y","type":"quantitative","scale":{"domain":[0.231,1.8],"nice":false,"zero":false},"axis":null},"text":{"field":"t"}}}
],
"resolve":{"axis":{"x":"independent","y":"independent"}}}
]
}
